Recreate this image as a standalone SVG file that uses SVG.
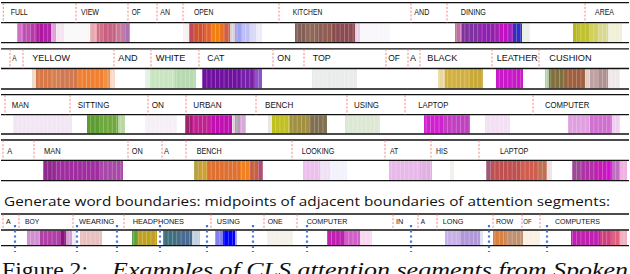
<svg xmlns="http://www.w3.org/2000/svg" width="630" height="274" viewBox="0 0 630 274">
<style>
.ln{stroke:#111;stroke-width:1.3;fill:none}
.sep{stroke:#f07a7a;stroke-width:0.9;stroke-dasharray:2.2 1.6;fill:none}
.w{font-family:"Liberation Sans",Arial,sans-serif;font-size:9px;fill:#111}
.w5{font-family:"Liberation Sans",Arial,sans-serif;font-size:8px;fill:#111}
.cap{font-family:"Open Sans","Liberation Sans",sans-serif;font-size:13.5px;fill:#111}
.fig{font-family:"Liberation Serif","Times New Roman",serif;font-size:22px;fill:#111}
.bd{stroke:#4a78c8;stroke-width:2.2;stroke-dasharray:2.2 3;fill:none}
</style>
<defs>
<pattern id="str" width="4.3" height="10" patternUnits="userSpaceOnUse">
<rect x="0" y="0" width="0.7" height="10" fill="#fff" fill-opacity="0.35"/>
</pattern>
</defs>
<rect width="630" height="274" fill="#fff"/>

<!-- Panel 1 -->
<g id="panel1">
<g transform="translate(0,23.3)">
<rect x="17" width="6" height="18.8" fill="#d070c8"/>
<rect x="23" width="7" height="18.8" fill="#c050b0"/>
<rect x="30" width="7" height="18.8" fill="#b83aa8"/>
<rect x="37" width="7" height="18.8" fill="#b015a0"/>
<rect x="44" width="7" height="18.8" fill="#b020a8"/>
<rect x="51" width="5" height="18.8" fill="#e0a0d8"/>
<rect x="56" width="8" height="18.8" fill="#f4e4f0"/>
<rect x="64" width="26" height="18.8" fill="#f9f8f9"/>
<rect x="90" width="7" height="18.8" fill="#e8a8b0"/>
<rect x="97" width="6" height="18.8" fill="#d07088"/>
<rect x="103" width="12" height="18.8" fill="#c86080"/>
<rect x="115" width="9" height="18.8" fill="#c87898"/>
<rect x="124" width="6" height="18.8" fill="#b070b0"/>
<rect x="183" width="6" height="18.8" fill="#f8f0f0"/>
<rect x="189" width="5" height="18.8" fill="#c04858"/>
<rect x="194" width="10" height="18.8" fill="#d05030"/>
<rect x="204" width="7" height="18.8" fill="#e06030"/>
<rect x="211" width="9" height="18.8" fill="#f08010"/>
<rect x="220" width="4" height="18.8" fill="#e87020"/>
<rect x="224" width="6" height="18.8" fill="#d06040"/>
<rect x="230" width="5" height="18.8" fill="#ddd0dd"/>
<rect x="235" width="7" height="18.8" fill="#a0a0f0"/>
<rect x="242" width="8" height="18.8" fill="#c0c0f8"/>
<rect x="250" width="6" height="18.8" fill="#d8d8f8"/>
<rect x="256" width="6" height="18.8" fill="#ececfa"/>
<rect x="295" width="10" height="18.8" fill="#806058"/>
<rect x="305" width="12" height="18.8" fill="#906858"/>
<rect x="317" width="16" height="18.8" fill="#8e5c50"/>
<rect x="333" width="22" height="18.8" fill="#8a4a50"/>
<rect x="355" width="5" height="18.8" fill="#e8d0e8"/>
<rect x="360" width="30" height="18.8" fill="#f9f6fb"/>
<rect x="455" width="7" height="18.8" fill="#c070a0"/>
<rect x="462" width="18" height="18.8" fill="#8030a0"/>
<rect x="480" width="14" height="18.8" fill="#9020b0"/>
<rect x="494" width="6" height="18.8" fill="#a020b0"/>
<rect x="500" width="7" height="18.8" fill="#c010c0"/>
<rect x="507" width="6" height="18.8" fill="#a020c0"/>
<rect x="513" width="9" height="18.8" fill="#3030c0"/>
<rect x="522" width="8" height="18.8" fill="#e8f0e8"/>
<rect x="573" width="5" height="18.8" fill="#b8b820"/>
<rect x="578" width="12" height="18.8" fill="#c0c030"/>
<rect x="590" width="8" height="18.8" fill="#d0d060"/>
<rect x="598" width="10" height="18.8" fill="#d8d890"/>
<rect x="608" width="14" height="18.8" fill="#f0f0d8"/>
<rect x="0" width="630" height="18.8" fill="url(#str)"/>
</g>
<path class="ln" d="M1 2.7H629M1 22.7H629M1 42.7H629"/>
<path class="sep" d="M3.3 3V22.5M76 3V22.5M128 3V22.5M157 3V22.5M183 3V22.5M279 3V22.5M411 3V22.5M447 3V22.5M585 3V22.5"/>
<text class="w" x="10.7" y="15.2" textLength="17" lengthAdjust="spacingAndGlyphs">FULL</text>
<text class="w" x="81" y="15.2" textLength="18" lengthAdjust="spacingAndGlyphs">VIEW</text>
<text class="w" x="131.7" y="15.2" textLength="9" lengthAdjust="spacingAndGlyphs">OF</text>
<text class="w" x="160.3" y="15.2" textLength="9.7" lengthAdjust="spacingAndGlyphs">AN</text>
<text class="w" x="194" y="15.2" textLength="19.3" lengthAdjust="spacingAndGlyphs">OPEN</text>
<text class="w" x="292.7" y="15.2" textLength="29.6" lengthAdjust="spacingAndGlyphs">KITCHEN</text>
<text class="w" x="414.3" y="15.2" textLength="15" lengthAdjust="spacingAndGlyphs">AND</text>
<text class="w" x="460.7" y="15.2" textLength="25.3" lengthAdjust="spacingAndGlyphs">DINING</text>
<text class="w" x="595" y="15.2" textLength="19" lengthAdjust="spacingAndGlyphs">AREA</text>
</g>

<!-- Panel 2 -->
<g id="panel2">
<g transform="translate(0,69.1)">
<rect x="32" width="4" height="19.3" fill="#eed8c8"/>
<rect x="36" width="14" height="19.3" fill="#d87848"/>
<rect x="50" width="10" height="19.3" fill="#d88050"/>
<rect x="60" width="18" height="19.3" fill="#d07850"/>
<rect x="78" width="26" height="19.3" fill="#f08030"/>
<rect x="104" width="6" height="19.3" fill="#f09048"/>
<rect x="110" width="5" height="19.3" fill="#f8d8c8"/>
<rect x="145" width="5" height="19.3" fill="#e4f2e4"/>
<rect x="150" width="25" height="19.3" fill="#c8e4c0"/>
<rect x="175" width="21" height="19.3" fill="#b8dab0"/>
<rect x="202" width="38" height="19.3" fill="#7010a0"/>
<rect x="240" width="15" height="19.3" fill="#7820a8"/>
<rect x="255" width="7" height="19.3" fill="#9050c8"/>
<rect x="312" width="45" height="19.3" fill="#e9ecea"/>
<rect x="438" width="7" height="19.3" fill="#e8d8a0"/>
<rect x="445" width="25" height="19.3" fill="#d0b040"/>
<rect x="470" width="13" height="19.3" fill="#c8a838"/>
<rect x="496" width="27" height="19.3" fill="#c818c8"/>
<rect x="545" width="4" height="19.3" fill="#b0d0a0"/>
<rect x="549" width="16" height="19.3" fill="#807040"/>
<rect x="565" width="20" height="19.3" fill="#a06040"/>
<rect x="585" width="5" height="19.3" fill="#e0d0c8"/>
<rect x="590" width="8" height="19.3" fill="#c0a0a0"/>
<rect x="598" width="10" height="19.3" fill="#b09090"/>
<rect x="608" width="12" height="19.3" fill="#f0e8e8"/>
<rect x="0" width="630" height="19.3" fill="url(#str)"/>
</g>
<path class="ln" d="M1 48.8H629M1 68.5H629M1 89H629"/>
<path class="sep" d="M10 49V68.3M23 49V68.3M114 49V68.3M151 49V68.3M199 49V68.3M273 49V68.3M304 49V68.3M386 49V68.3M408 49V68.3M420 49V68.3M492 49V68.3M539 49V68.3"/>
<text class="w" x="12.3" y="61" textLength="4.3" lengthAdjust="spacingAndGlyphs">A</text>
<text class="w" x="32.3" y="61" textLength="37.7" lengthAdjust="spacingAndGlyphs">YELLOW</text>
<text class="w" x="118.3" y="61" textLength="19.3" lengthAdjust="spacingAndGlyphs">AND</text>
<text class="w" x="155.7" y="61" textLength="29.7" lengthAdjust="spacingAndGlyphs">WHITE</text>
<text class="w" x="207.3" y="61" textLength="17" lengthAdjust="spacingAndGlyphs">CAT</text>
<text class="w" x="277.3" y="61" textLength="13.3" lengthAdjust="spacingAndGlyphs">ON</text>
<text class="w" x="312.7" y="61" textLength="18" lengthAdjust="spacingAndGlyphs">TOP</text>
<text class="w" x="388.3" y="61" textLength="11.7" lengthAdjust="spacingAndGlyphs">OF</text>
<text class="w" x="410" y="61" textLength="6" lengthAdjust="spacingAndGlyphs">A</text>
<text class="w" x="427.3" y="61" textLength="30" lengthAdjust="spacingAndGlyphs">BLACK</text>
<text class="w" x="496.7" y="61" textLength="41" lengthAdjust="spacingAndGlyphs">LEATHER</text>
<text class="w" x="549.3" y="61" textLength="42.3" lengthAdjust="spacingAndGlyphs">CUSHION</text>
</g>

<!-- Panel 3 -->
<g id="panel3">
<g transform="translate(0,115.3)">
<rect x="13" width="59" height="18.1" fill="#f2e6f4"/>
<rect x="87" width="13" height="18.1" fill="#5c9c30"/>
<rect x="100" width="18" height="18.1" fill="#70a840"/>
<rect x="118" width="7" height="18.1" fill="#b8d8a0"/>
<rect x="145" width="32" height="18.1" fill="#f6f0f6"/>
<rect x="185" width="7" height="18.1" fill="#a02070"/>
<rect x="192" width="18" height="18.1" fill="#c02090"/>
<rect x="210" width="22" height="18.1" fill="#c010b0"/>
<rect x="232" width="3" height="18.1" fill="#e0d0e0"/>
<rect x="235" width="5" height="18.1" fill="#b0a0b0"/>
<rect x="240" width="6" height="18.1" fill="#d8a8d8"/>
<rect x="268" width="4" height="18.1" fill="#e8e8e0"/>
<rect x="272" width="18" height="18.1" fill="#c0c020"/>
<rect x="290" width="20" height="18.1" fill="#a09040"/>
<rect x="310" width="17" height="18.1" fill="#807050"/>
<rect x="345" width="35" height="18.1" fill="#dce8d4"/>
<rect x="424" width="20" height="18.1" fill="#d020d0"/>
<rect x="444" width="26" height="18.1" fill="#c040c0"/>
<rect x="485" width="25" height="18.1" fill="#f4e0f4"/>
<rect x="568" width="22" height="18.1" fill="#e0a0e0"/>
<rect x="590" width="22" height="18.1" fill="#d070d0"/>
<rect x="612" width="8" height="18.1" fill="#f0d0f0"/>
<rect x="0" width="630" height="18.1" fill="url(#str)"/>
</g>
<path class="ln" d="M1 94.7H629M1 114.7H629M1 134H629"/>
<path class="sep" d="M5 95V114.5M70 95V114.5M148 95V114.5M186 95V114.5M256 95V114.5M347 95V114.5M405 95V114.5M533 95V114.5"/>
<text class="w" x="11.7" y="107.5" textLength="17.3" lengthAdjust="spacingAndGlyphs">MAN</text>
<text class="w" x="77.7" y="107.5" textLength="31.7" lengthAdjust="spacingAndGlyphs">SITTING</text>
<text class="w" x="151.7" y="107.5" textLength="12.3" lengthAdjust="spacingAndGlyphs">ON</text>
<text class="w" x="193.3" y="107.5" textLength="28.3" lengthAdjust="spacingAndGlyphs">URBAN</text>
<text class="w" x="265" y="107.5" textLength="28.3" lengthAdjust="spacingAndGlyphs">BENCH</text>
<text class="w" x="354" y="107.5" textLength="25" lengthAdjust="spacingAndGlyphs">USING</text>
<text class="w" x="418.3" y="107.5" textLength="30" lengthAdjust="spacingAndGlyphs">LAPTOP</text>
<text class="w" x="545" y="107.5" textLength="44.3" lengthAdjust="spacingAndGlyphs">COMPUTER</text>
</g>

<!-- Panel 4 -->
<g id="panel4">
<g transform="translate(0,160.9)">
<rect x="43" width="12" height="19.2" fill="#902890"/>
<rect x="55" width="45" height="19.2" fill="#a02ca0"/>
<rect x="100" width="23" height="19.2" fill="#a848a8"/>
<rect x="194" width="6" height="19.2" fill="#b8a040"/>
<rect x="200" width="7" height="19.2" fill="#d0a030"/>
<rect x="207" width="33" height="19.2" fill="#e07030"/>
<rect x="240" width="10" height="19.2" fill="#f08020"/>
<rect x="250" width="8" height="19.2" fill="#c86040"/>
<rect x="258" width="5" height="19.2" fill="#b05070"/>
<rect x="303" width="17" height="19.2" fill="#ecc0ec"/>
<rect x="320" width="10" height="19.2" fill="#f0e0f8"/>
<rect x="330" width="17" height="19.2" fill="#f2f2fc"/>
<rect x="389" width="31" height="19.2" fill="#e8b8e8"/>
<rect x="420" width="12" height="19.2" fill="#e0b0e0"/>
<rect x="450" width="4" height="19.2" fill="#f0f0ec"/>
<rect x="486" width="6" height="19.2" fill="#a05878"/>
<rect x="492" width="28" height="19.2" fill="#c05050"/>
<rect x="520" width="18" height="19.2" fill="#d05c50"/>
<rect x="538" width="9" height="19.2" fill="#c07050"/>
<rect x="547" width="5" height="19.2" fill="#f0e0e8"/>
<rect x="572" width="10" height="19.2" fill="#a04898"/>
<rect x="582" width="13" height="19.2" fill="#b030a8"/>
<rect x="595" width="10" height="19.2" fill="#c818b8"/>
<rect x="605" width="7" height="19.2" fill="#d010d0"/>
<rect x="612" width="8" height="19.2" fill="#c070c0"/>
<rect x="620" width="7" height="19.2" fill="#f0b0e0"/>
<rect x="0" width="630" height="19.2" fill="url(#str)"/>
</g>
<path class="ln" d="M1 140H629M1 160.3H629M1 180.7H629"/>
<path class="sep" d="M3 140.3V160.1M34 140.3V160.1M128 140.3V160.1M162 140.3V160.1M186 140.3V160.1M292 140.3V160.1M385 140.3V160.1M431 140.3V160.1M479 140.3V160.1"/>
<text class="w" x="7.3" y="154" textLength="5" lengthAdjust="spacingAndGlyphs">A</text>
<text class="w" x="44" y="154" textLength="16.7" lengthAdjust="spacingAndGlyphs">MAN</text>
<text class="w" x="131.7" y="154" textLength="11" lengthAdjust="spacingAndGlyphs">ON</text>
<text class="w" x="164" y="154" textLength="5" lengthAdjust="spacingAndGlyphs">A</text>
<text class="w" x="196.7" y="154" textLength="25" lengthAdjust="spacingAndGlyphs">BENCH</text>
<text class="w" x="301.7" y="154" textLength="32.7" lengthAdjust="spacingAndGlyphs">LOOKING</text>
<text class="w" x="390" y="154" textLength="8.3" lengthAdjust="spacingAndGlyphs">AT</text>
<text class="w" x="436" y="154" textLength="11.7" lengthAdjust="spacingAndGlyphs">HIS</text>
<text class="w" x="500" y="154" textLength="28.3" lengthAdjust="spacingAndGlyphs">LAPTOP</text>
</g>

<text id="caption" class="cap" x="4" y="205.7" textLength="606" lengthAdjust="spacingAndGlyphs">Generate word boundaries: midpoints of adjacent boundaries of attention segments:</text>

<!-- Panel 5 -->
<g id="panel5">
<g transform="translate(0,230.6)">
<rect x="27" width="13" height="14.5" fill="#d090d0"/>
<rect x="40" width="20" height="14.5" fill="#b040a8"/>
<rect x="60" width="6" height="14.5" fill="#901080"/>
<rect x="66" width="6" height="14.5" fill="#d0a0d0"/>
<rect x="72" width="4" height="14.5" fill="#f4e8f4"/>
<rect x="80" width="22" height="14.5" fill="#e8c0c0"/>
<rect x="132" width="6" height="14.5" fill="#60a040"/>
<rect x="138" width="19" height="14.5" fill="#c0a020"/>
<rect x="163" width="17" height="14.5" fill="#407080"/>
<rect x="180" width="12" height="14.5" fill="#4a6a90"/>
<rect x="192" width="8" height="14.5" fill="#c0d0e0"/>
<rect x="215" width="8" height="14.5" fill="#8080f0"/>
<rect x="223" width="12" height="14.5" fill="#0000ff"/>
<rect x="235" width="2" height="14.5" fill="#a0a0f0"/>
<rect x="267" width="26" height="14.5" fill="#f4f0ea"/>
<rect x="327" width="18" height="14.5" fill="#c020b0"/>
<rect x="345" width="15" height="14.5" fill="#d060c8"/>
<rect x="360" width="12" height="14.5" fill="#f8d8f0"/>
<rect x="445" width="15" height="14.5" fill="#c8b0e8"/>
<rect x="460" width="20" height="14.5" fill="#b098d8"/>
<rect x="480" width="3" height="14.5" fill="#e0e0f8"/>
<rect x="493" width="12" height="14.5" fill="#d88040"/>
<rect x="505" width="18" height="14.5" fill="#c09070"/>
<rect x="523" width="17" height="14.5" fill="#faf0e4"/>
<rect x="571" width="29" height="14.5" fill="#c020b0"/>
<rect x="600" width="12" height="14.5" fill="#d04080"/>
<rect x="612" width="8" height="14.5" fill="#e06080"/>
<rect x="620" width="7" height="14.5" fill="#f0b0c0"/>
<rect x="0" width="630" height="14.5" fill="url(#str)"/>
</g>
<path class="ln" d="M1 214H629M1 230H629M1 245.7H629"/>
<path class="sep" d="M3 214.3V229.8M19 214.3V229.8M73 214.3V229.8M124 214.3V229.8M211 214.3V229.8M264 214.3V229.8M297 214.3V229.8M393 214.3V229.8M418 214.3V229.8M437 214.3V229.8M493 214.3V229.8M522 214.3V229.8M540 214.3V229.8"/>
<text class="w5" x="6" y="223.8" textLength="4.7" lengthAdjust="spacingAndGlyphs">A</text>
<text class="w5" x="25" y="223.8" textLength="14.3" lengthAdjust="spacingAndGlyphs">BOY</text>
<text class="w5" x="79" y="223.8" textLength="35.3" lengthAdjust="spacingAndGlyphs">WEARING</text>
<text class="w5" x="132.7" y="223.8" textLength="51.3" lengthAdjust="spacingAndGlyphs">HEADPHONES</text>
<text class="w5" x="216.7" y="223.8" textLength="23.3" lengthAdjust="spacingAndGlyphs">USING</text>
<text class="w5" x="267.7" y="223.8" textLength="15" lengthAdjust="spacingAndGlyphs">ONE</text>
<text class="w5" x="306.7" y="223.8" textLength="40.7" lengthAdjust="spacingAndGlyphs">COMPUTER</text>
<text class="w5" x="396" y="223.8" textLength="7.3" lengthAdjust="spacingAndGlyphs">IN</text>
<text class="w5" x="420.7" y="223.8" textLength="4.3" lengthAdjust="spacingAndGlyphs">A</text>
<text class="w5" x="442.7" y="223.8" textLength="20.7" lengthAdjust="spacingAndGlyphs">LONG</text>
<text class="w5" x="496" y="223.8" textLength="17.3" lengthAdjust="spacingAndGlyphs">ROW</text>
<text class="w5" x="523.3" y="223.8" textLength="8.3" lengthAdjust="spacingAndGlyphs">OF</text>
<text class="w5" x="555" y="223.8" textLength="45" lengthAdjust="spacingAndGlyphs">COMPUTERS</text>
<path class="bd" d="M15 225V252M77 225V252M117 225V252M160 225V252M207 225V252M253 225V252M307 225V252M411 225V252M489 225V252M547 225V252"/>
</g>

<text class="fig" x="2" y="277" textLength="86" lengthAdjust="spacingAndGlyphs">Figure 2:</text>
<text class="fig" x="112" y="277" font-style="italic" textLength="516" lengthAdjust="spacingAndGlyphs">Examples of CLS attention segments from Spoken</text>
</svg>
